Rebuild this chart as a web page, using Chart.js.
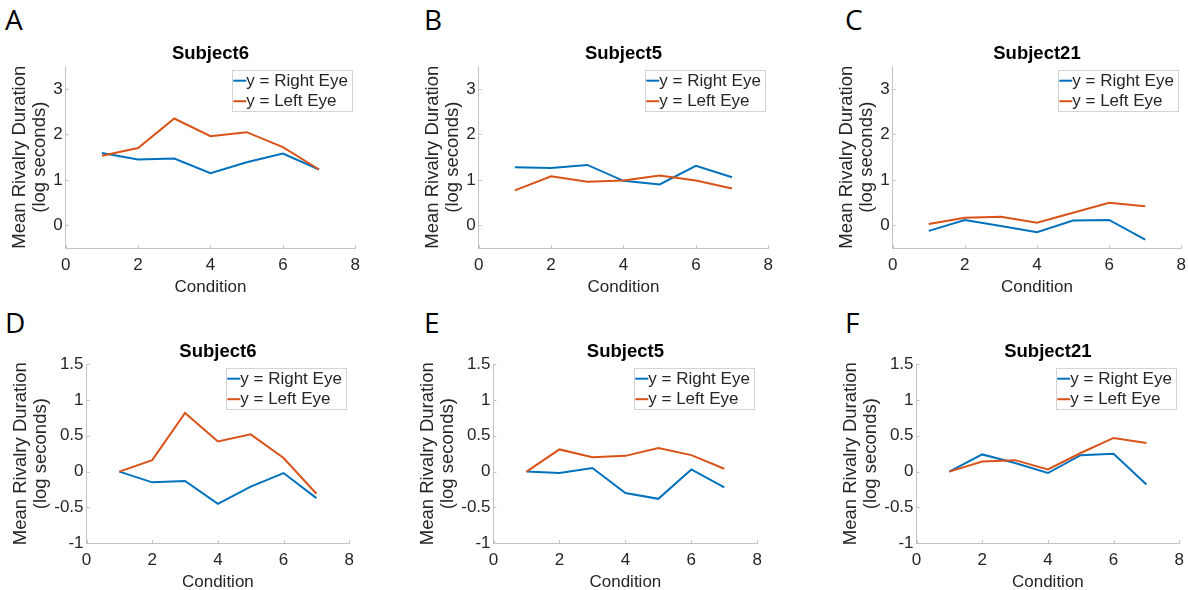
<!DOCTYPE html>
<html><head><meta charset="utf-8">
<script src="https://cdn.jsdelivr.net/npm/chart.js@4.4.1/dist/chart.umd.min.js"></script>
<style>
html,body{margin:0;padding:0;background:#fff;width:1188px;height:590px;overflow:hidden;position:relative}
.panel{position:absolute}
.panel canvas{display:block}
.letter{position:absolute;font-family:"Open Sans",sans-serif;font-size:28px;line-height:28px;color:#000}
</style></head><body>
<script>
// ---------- data ----------
const conditions = [1, 2, 3, 4, 5, 6, 7];
const xTicks = [0, 2, 4, 6, 8];
const yTicksTop = [0, 1, 2, 3];
const yTicksBottom = [-1, -0.5, 0, 0.5, 1, 1.5];
const seriesNames = ['y = Right Eye', 'y = Left Eye'];
const titles = ['Subject6', 'Subject5', 'Subject21', 'Subject6', 'Subject5', 'Subject21'];
const letters = ['A', 'B', 'C', 'D', 'E', 'F'];
const xLabel = 'Condition';
const yLabel = ['Mean Rivalry Duration', '(log seconds)'];

const rightA = [1.59, 1.45, 1.47, 1.15, 1.39, 1.58, 1.23];
const leftA  = [1.53, 1.70, 2.35, 1.96, 2.05, 1.72, 1.23];
const rightB = [1.28, 1.26, 1.33, 0.98, 0.90, 1.31, 1.06];
const leftB  = [0.77, 1.08, 0.96, 0.99, 1.10, 0.99, 0.81];
const rightC = [-0.12, 0.12, -0.01, -0.15, 0.11, 0.12, -0.31];
const leftC  = [0.03, 0.17, 0.19, 0.06, 0.28, 0.50, 0.42];
const rightD = [0, -0.15, -0.13, -0.45, -0.21, -0.02, -0.37];
const leftD  = [0, 0.16, 0.82, 0.42, 0.52, 0.19, -0.31];
const rightE = [0, -0.02, 0.05, -0.30, -0.38, 0.03, -0.22];
const leftE  = [0, 0.31, 0.20, 0.22, 0.33, 0.23, 0.04];
const rightF = [0, 0.24, 0.12, -0.02, 0.23, 0.25, -0.18];
const leftF  = [0, 0.14, 0.16, 0.03, 0.26, 0.47, 0.40];

// ---------- style ----------
const FONT = '"Liberation Sans", Arial, Helvetica, sans-serif';
const BLUE = '#0072BD', ORANGE = '#D95319';
const AXIS = '#c4c4c4', TXT = '#262626';

// inward tick marks (MATLAB style)
Chart.register({
  id: 'innerTicks',
  afterDraw(chart) {
    const ctx = chart.ctx, ca = chart.chartArea;
    const xs = chart.scales.x, ys = chart.scales.y;
    ctx.save();
    ctx.strokeStyle = AXIS; ctx.lineWidth = 1;
    ctx.beginPath();
    xs.ticks.forEach(t => {
      const px = Math.round(xs.getPixelForValue(t.value)) + 0.5;
      ctx.moveTo(px, ca.bottom); ctx.lineTo(px, ca.bottom - 3);
    });
    ys.ticks.forEach(t => {
      const py = Math.round(ys.getPixelForValue(t.value)) + 0.5;
      ctx.moveTo(ca.left, py); ctx.lineTo(ca.left + 3, py);
    });
    ctx.stroke();
    ctx.restore();
  }
});

// legend inside the axes, top-right, drawn from the datasets
Chart.register({
  id: 'insideLegend',
  afterDraw(chart, args, opts) {
    const ctx = chart.ctx, ca = chart.chartArea;
    const ds = chart.data.datasets;
    ctx.save();
    ctx.font = '17px ' + FONT;
    let maxW = 0;
    ds.forEach(d => { maxW = Math.max(maxW, ctx.measureText(d.label).width); });
    const w = Math.round(14 + maxW + 4), rowH = 20.5, h = Math.round(ds.length * rowH);
    const right = ca.right - 3, top = ca.top + 4;
    const left = right - w;
    ctx.fillStyle = '#fff';
    ctx.fillRect(left, top, w, h);
    ctx.strokeStyle = '#d4d4d4'; ctx.lineWidth = 1;
    ctx.strokeRect(Math.round(left) + 0.5, Math.round(top) + 0.5, w, h);
    ds.forEach((d, i) => {
      const cy = top + 10.5 + i * rowH;
      ctx.strokeStyle = d.borderColor; ctx.lineWidth = 2;
      ctx.beginPath(); ctx.moveTo(left + 1, cy); ctx.lineTo(left + 14, cy); ctx.stroke();
      ctx.fillStyle = TXT; ctx.textBaseline = 'middle'; ctx.textAlign = 'left';
      ctx.fillText(d.label, left + 14, cy + 0.5);
    });
    ctx.restore();
  }
});

function pts(arr) { return conditions.map((c, i) => ({ x: c, y: arr[i] })); }

function makeConfig(right, left, title, yMin, yMax, yTicks) {
  return {
    type: 'line',
    data: {
      datasets: [
        { label: seriesNames[0], data: pts(right), borderColor: BLUE, borderWidth: 2, pointRadius: 0, tension: 0, fill: false, order: 1 },
        { label: seriesNames[1], data: pts(left), borderColor: ORANGE, borderWidth: 2, pointRadius: 0, tension: 0, fill: false, order: 0 }
      ]
    },
    options: {
      responsive: false, animation: false, devicePixelRatio: 1,
      layout: { padding: 0 },
      events: [],
      plugins: {
        legend: { display: false },
        tooltip: { enabled: false },
        title: { display: true, fullSize: false, text: title, color: '#000', font: { family: FONT, size: 18.5, weight: 'bold' }, padding: { top: 0, bottom: 1 } },
        insideLegend: {}
      },
      scales: {
        x: {
          type: 'linear', min: 0, max: 8,
          afterBuildTicks: s => { s.ticks = xTicks.map(v => ({ value: v })); },
          grid: { display: false, drawTicks: false },
          border: { display: true, color: AXIS, width: 1 },
          ticks: { color: TXT, font: { family: FONT, size: 17 }, padding: 7, maxRotation: 0, callback: v => String(v) },
          title: { display: true, text: xLabel, color: TXT, font: { family: FONT, size: 17 }, padding: { top: -5, bottom: 0 } }
        },
        y: {
          type: 'linear', min: yMin, max: yMax,
          afterBuildTicks: s => { s.ticks = yTicks.map(v => ({ value: v })); },
          grid: { display: false, drawTicks: false },
          border: { display: true, color: AXIS, width: 1 },
          ticks: { color: TXT, font: { family: FONT, size: 17 }, padding: 3, callback: v => String(v) },
          title: { display: true, text: yLabel, color: TXT, font: { family: FONT, size: 18.5, lineHeight: 1.06 }, padding: { top: 0, bottom: 1 } }
        }
      }
    }
  };
}

const panels = [
  { r: rightA, l: leftA, yMin: -0.5, yMax: 3.5, yt: yTicksTop, L: 66, R: 356, T: 66, B: 248, lx: 5, ly: 5 },
  { r: rightB, l: leftB, yMin: -0.5, yMax: 3.5, yt: yTicksTop, L: 479, R: 769, T: 66, B: 248, lx: 424, ly: 5 },
  { r: rightC, l: leftC, yMin: -0.5, yMax: 3.5, yt: yTicksTop, L: 893, R: 1182, T: 66, B: 248, lx: 845, ly: 5 },
  { r: rightD, l: leftD, yMin: -1, yMax: 1.5, yt: yTicksBottom, L: 87, R: 350, T: 364, B: 543, lx: 5, ly: 308 },
  { r: rightE, l: leftE, yMin: -1, yMax: 1.5, yt: yTicksBottom, L: 494, R: 758, T: 364, B: 543, lx: 424, ly: 308 },
  { r: rightF, l: leftF, yMin: -1, yMax: 1.5, yt: yTicksBottom, L: 917, R: 1180, T: 364, B: 543, lx: 845, ly: 308 }
];

panels.forEach((p, i) => {
  const lt = document.createElement('div');
  lt.className = 'letter'; lt.textContent = letters[i];
  lt.style.left = p.lx + 'px'; lt.style.top = p.ly + 'px';
  document.body.appendChild(lt);

  const wrap = document.createElement('div');
  wrap.className = 'panel';
  document.body.appendChild(wrap);
  const tw = p.R - p.L, th = p.B - p.T;
  let w = tw + 90, h = th + 90, chart = null;
  for (let k = 0; k < 4; k++) {
    if (chart) chart.destroy();
    wrap.innerHTML = '';
    const cv = document.createElement('canvas');
    cv.width = w; cv.height = h; cv.style.width = w + 'px'; cv.style.height = h + 'px';
    wrap.appendChild(cv);
    chart = new Chart(cv, makeConfig(p.r, p.l, titles[i], p.yMin, p.yMax, p.yt));
    const ca = chart.chartArea;
    const nw = Math.round(w + tw - (ca.right - ca.left));
    const nh = Math.round(h + th - (ca.bottom - ca.top));
    wrap.style.left = Math.round(p.L - ca.left) + 'px';
    wrap.style.top = Math.round(p.T - ca.top) + 'px';
    if (nw === w && nh === h) break;
    w = nw; h = nh;
  }
});
</script>
</body></html>
